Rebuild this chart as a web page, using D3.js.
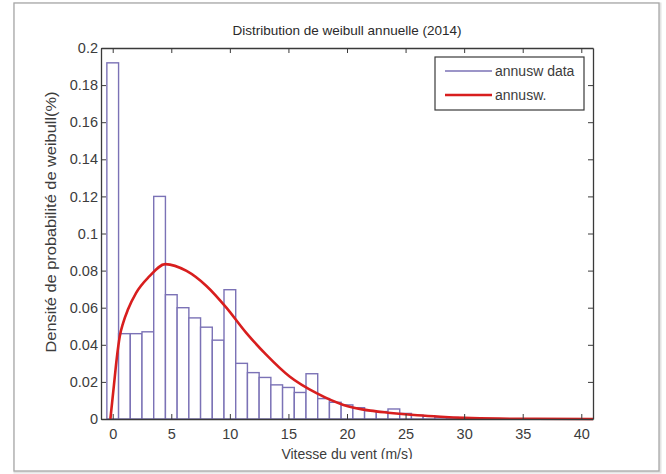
<!DOCTYPE html>
<html>
<head>
<meta charset="utf-8">
<script src="https://cdn.jsdelivr.net/npm/d3@7"></script>
<style>
  body { margin: 0; background: #fff; }
  svg { display: block; font-family: "Liberation Sans", Arial, sans-serif; }
</style>
</head>
<body>
<svg id="chart" width="666" height="474"></svg>
<script>
// histogram bins (centre of bin, m/s) and densities
var binCentres = [0, 1, 2, 3, 4, 5, 6, 7, 8, 9, 10, 11, 12, 13, 14, 15, 16, 17, 18, 19,
  20, 21, 22, 23, 24, 25, 26, 27, 28, 29];
var binDensity = [0.192, 0.046, 0.046, 0.047, 0.120, 0.067, 0.060, 0.0545, 0.0495, 0.0425,
  0.0697, 0.030, 0.025, 0.0224, 0.0184, 0.017, 0.0143, 0.0244, 0.011, 0.009,
  0.0076, 0.0061, 0.0045, 0.004, 0.0054, 0.003, 0.002, 0.0015, 0.001, 0.0008];

// fitted weibull curve
var fitSpeed = [-0.2, 0.1, 0.35, 0.6, 0.9, 1.3, 2.0, 3.1, 4.5, 6.3, 8.0, 9.7, 11.4, 13.1, 15.1,
  17.4, 19.7, 22.0, 23.5, 26, 28, 30, 33, 36, 41];
var fitDensity = [0, 0.018, 0.033, 0.0445, 0.052, 0.059, 0.068, 0.0767, 0.0835, 0.0798, 0.0717,
  0.060, 0.0464, 0.0347, 0.0229, 0.0139, 0.0076, 0.0045, 0.0034, 0.002, 0.0012,
  0.0006, 0.0002, 0.0001, 0];

var xTicks = [0, 5, 10, 15, 20, 25, 30, 35, 40];
var yTicks = [0, 0.02, 0.04, 0.06, 0.08, 0.1, 0.12, 0.14, 0.16, 0.18, 0.2];
var legendLabels = ["annusw data", "annusw."];

var barColor = "#7b72b6";
var fitColor = "#d81e1e";

var svg = d3.select("#chart");

// outer frame of the screenshot
svg.append("rect")
    .attr("x", 15).attr("y", 4).attr("width", 645).attr("height", 468)
    .attr("fill", "none").attr("stroke", "#e4e4e4").attr("stroke-width", 3);
svg.append("rect")
    .attr("x", 14).attr("y", 3).attr("width", 645).attr("height", 468)
    .attr("fill", "#fff").attr("stroke", "#a8a8a8").attr("stroke-width", 1.3);

svg.append("clipPath").attr("id", "figclip")
  .append("rect").attr("x", 15).attr("y", 4).attr("width", 644).attr("height", 455);

var fig = svg.append("g").attr("clip-path", "url(#figclip)");

var plotLeft = 101, plotRight = 593, plotTop = 48, plotBottom = 419;

var x = d3.scaleLinear().domain([-1, 41]).range([plotLeft, plotRight]);
var y = d3.scaleLinear().domain([0, 0.2]).range([plotBottom, plotTop]);

var plot = fig.append("g");

// bars
plot.selectAll("rect.bar")
  .data(binCentres)
  .join("rect")
    .attr("class", "bar")
    .attr("x", function (d) { return x(d - 0.5); })
    .attr("width", function (d) { return x(d + 0.5) - x(d - 0.5); })
    .attr("y", function (d, i) { return y(binDensity[i]); })
    .attr("height", function (d, i) { return y(0) - y(binDensity[i]); })
    .attr("fill", "#fff")
    .attr("stroke", barColor)
    .attr("stroke-width", 1.4);

// fitted curve
var line = d3.line()
    .x(function (d) { return x(d[0]); })
    .y(function (d) { return y(d[1]); })
    .curve(d3.curveMonotoneX);

plot.append("path")
    .datum(d3.zip(fitSpeed, fitDensity))
    .attr("d", line)
    .attr("fill", "none")
    .attr("stroke", fitColor)
    .attr("stroke-width", 2.6)
    .attr("stroke-linejoin", "round");

// axes (matlab style: ticks inside on all four sides)
var axisColor = "#3a3a3a";
var tickLen = 5;

var xb = fig.append("g").attr("transform", "translate(0," + plotBottom + ")")
    .call(d3.axisBottom(x).tickValues(xTicks).tickSizeInner(-tickLen).tickSizeOuter(0).tickPadding(10));
var xt = fig.append("g").attr("transform", "translate(0," + plotTop + ")")
    .call(d3.axisTop(x).tickValues(xTicks).tickSizeInner(-tickLen).tickSizeOuter(0).tickFormat(""));
var yl = fig.append("g").attr("transform", "translate(" + plotLeft + ",0)")
    .call(d3.axisLeft(y).tickValues(yTicks).tickSizeInner(-tickLen).tickSizeOuter(0).tickPadding(3)
      .tickFormat(function (d) { return d === 0 ? "0" : String(+d.toFixed(2)); }));
var yr = fig.append("g").attr("transform", "translate(" + plotRight + ",0)")
    .call(d3.axisRight(y).tickValues(yTicks).tickSizeInner(-tickLen).tickSizeOuter(0).tickFormat(""));

[xb, xt, yl, yr].forEach(function (g) {
  g.select(".domain").attr("stroke", axisColor).attr("stroke-width", 1.3);
  g.selectAll(".tick line").attr("stroke", axisColor).attr("stroke-width", 1);
  g.selectAll(".tick text")
      .attr("fill", "#3c3c3c")
      .attr("font-size", 14.5)
      .attr("font-family", "\"Liberation Sans\", Arial, sans-serif");
});

// title and axis labels
fig.append("text")
    .attr("x", (plotLeft + plotRight) / 2).attr("y", 35)
    .attr("text-anchor", "middle")
    .attr("font-size", 13.5).attr("fill", "#2a2a2a")
    .text("Distribution de weibull annuelle (2014)");

fig.append("text")
    .attr("x", (plotLeft + plotRight) / 2).attr("y", 459)
    .attr("text-anchor", "middle")
    .attr("font-size", 14).attr("fill", "#3c3c3c")
    .text("Vitesse du vent (m/s)");

fig.append("text")
    .attr("transform", "translate(56,222) rotate(-90)")
    .attr("text-anchor", "middle")
    .attr("font-size", 15.5).attr("fill", "#3c3c3c")
    .attr("textLength", 261).attr("lengthAdjust", "spacingAndGlyphs")
    .text("Densité de probabilité de weibull(%)");

// legend
var legend = fig.append("g").attr("transform", "translate(435,57)");
legend.append("rect")
    .attr("width", 149).attr("height", 53)
    .attr("fill", "#fff").attr("stroke", axisColor).attr("stroke-width", 1.2);

var item = legend.selectAll("g.item")
  .data(legendLabels)
  .join("g")
    .attr("class", "item")
    .attr("transform", function (d, i) { return "translate(0," + (14 + i * 24) + ")"; });

item.append("line")
    .attr("x1", 10).attr("x2", 57)
    .attr("stroke", function (d, i) { return i === 0 ? barColor : fitColor; })
    .attr("stroke-width", function (d, i) { return i === 0 ? 1.6 : 2.4; });

item.append("text")
    .attr("x", 60).attr("dy", "0.35em")
    .attr("font-size", 14).attr("fill", "#3c3c3c")
    .text(function (d) { return d; });
</script>
</body>
</html>
